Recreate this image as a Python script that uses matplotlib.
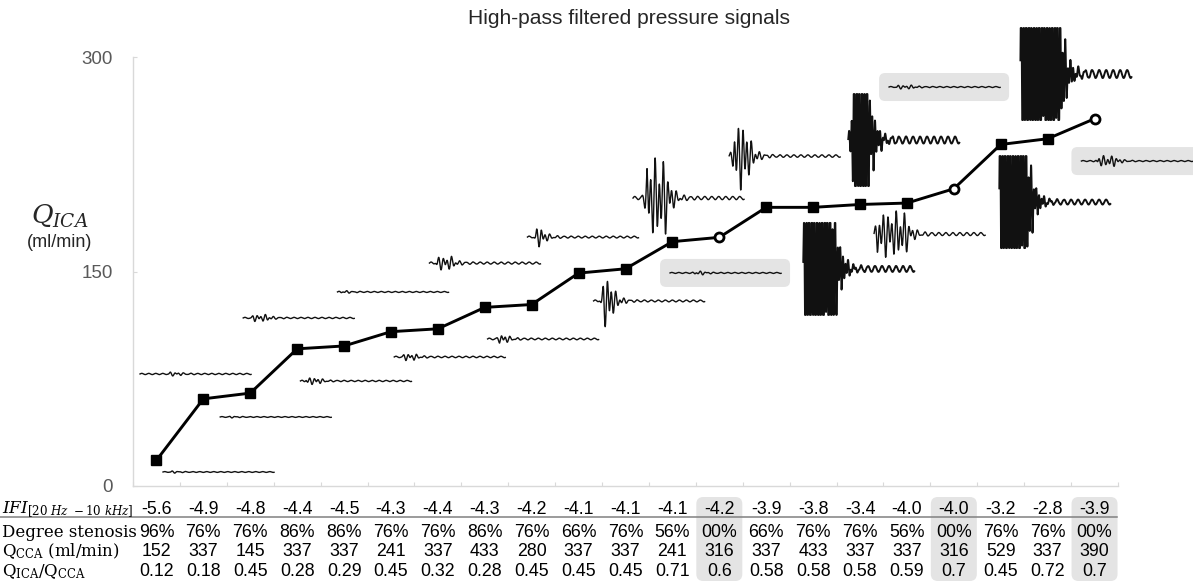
import numpy as np
import matplotlib
matplotlib.use("Agg")
import matplotlib.pyplot as plt
from matplotlib.patches import FancyBboxPatch
from matplotlib.lines import Line2D
from matplotlib.transforms import blended_transform_factory

# ---- data -------------------------------------------------------------
ifi = ["-5.6", "-4.9", "-4.8", "-4.4", "-4.5", "-4.3", "-4.4", "-4.3", "-4.2", "-4.1", "-4.1",
       "-4.1", "-4.2", "-3.9", "-3.8", "-3.4", "-4.0", "-4.0", "-3.2", "-2.8", "-3.9"]
stenosis = ["96%", "76%", "76%", "86%", "86%", "76%", "76%", "86%", "76%", "66%", "76%",
            "56%", "00%", "66%", "76%", "76%", "56%", "00%", "76%", "76%", "00%"]
q_cca = [152, 337, 145, 337, 337, 241, 337, 433, 280, 337, 337,
         241, 316, 337, 433, 337, 337, 316, 529, 337, 390]
q_ratio = [0.12, 0.18, 0.45, 0.28, 0.29, 0.45, 0.32, 0.28, 0.45, 0.45, 0.45,
           0.71, 0.6, 0.58, 0.58, 0.58, 0.59, 0.7, 0.45, 0.72, 0.7]
q_ica = [18, 61, 65, 96, 98, 108, 110, 125, 127, 149, 152,
         171, 174, 195, 195, 197, 198, 208, 239, 243, 257]
y_ticks = [0, 150, 300]

# ---- pressure-trace insets -------------------------------------------
# anchor (category x, Q value), burst amplitude / onset / duration (px),
# background ripple (px), framed in a grey box
insets = [
    (0.14, 9.8, 0.8, 8, 4, 0.4, False),
    (-0.35, 78.4, 1.5, 30, 8, 0.6, False),
    (1.36, 48.3, 0.6, 10, 4, 0.4, False),
    (1.85, 117.6, 3.0, 10, 14, 0.6, False),
    (3.07, 73.5, 3.0, 6, 12, 0.6, False),
    (3.86, 135.8, 1.0, 4, 6, 0.5, False),
    (5.07, 90.3, 3.0, 10, 10, 0.7, False),
    (5.82, 156.0, 6.0, 8, 14, 1.0, False),
    (7.06, 102.9, 4.0, 12, 6, 0.8, False),
    (7.91, 174.2, 9.0, 9, 5, 0.9, False),
    (9.32, 129.5, 25.0, 10, 6, 0.9, False),
    (10.16, 201.5, 39.0, 14, 18, 1.6, False),
    (10.95, 149.1, 1.5, 25, 8, 0.5, True),
    (12.21, 230.9, 33.0, 5, 12, 1.2, False),
    (13.79, 151.9, 120.0, 2, 26, 3.0, False),
    (14.75, 242.1, 120.0, 5, 12, 3.5, False),
    (15.30, 176.3, 22.0, 3, 28, 1.5, False),
    (15.62, 279.2, 1.5, 8, 16, 0.5, True),
    (17.97, 198.7, 120.0, 1, 24, 2.5, False),
    (18.42, 288.3, 120.0, 1, 36, 4.0, False),
    (19.72, 227.4, 5.0, 17, 16, 0.5, True),
]

W, H, DPI = 1193, 584, 100
AX_L, AX_R, AX_B, AX_T = 133, 1118, 486, 57.3  # pixel frame of the plot area
CLIP = 46.0


def waveform(amp, onset, dur, ripple, length=111.0, clip=CLIP, n=1600):
    t = np.linspace(0, length, n)
    env = np.where(t < onset, np.exp(-(onset - t) / 1.5),
                   np.where(t < onset + dur, 1.0, np.exp(-(t - onset - dur) / 6.0)))
    period = 2.6 if amp > clip else 4.2
    carrier = (np.sin(2 * np.pi * t / period)
               + 0.45 * np.sin(2 * np.pi * t / (period * 1.7) + 0.8)) / 1.45
    s = amp * env * carrier + ripple * np.sin(2 * np.pi * t / 7.0)
    return t, np.clip(s, -clip, clip)


plt.rcParams["mathtext.fontset"] = "dejavuserif"
fig = plt.figure(figsize=(W / DPI, H / DPI), dpi=DPI)
ax = fig.add_axes([AX_L / W, 1 - AX_B / H, (AX_R - AX_L) / W, (AX_B - AX_T) / H])

n = len(q_ica)
x = np.arange(n)
ax.set_xlim(-0.5, n - 0.5)
ax.set_ylim(0, 300)

grey = "#d9d9d9"
for side in ("top", "right"):
    ax.spines[side].set_visible(False)
for side in ("left", "bottom"):
    ax.spines[side].set_color(grey)
    ax.spines[side].set_linewidth(1.0)

ax.set_yticks(y_ticks)
ax.set_yticklabels([str(v) for v in y_ticks], fontfamily="Liberation Sans",
                   fontsize=13.5, color="#595959")
ax.tick_params(axis="y", direction="in", length=3, color=grey, pad=14.5)
ax.set_xticks(np.arange(n + 1) - 0.5)
ax.set_xticklabels([])
ax.tick_params(axis="x", direction="in", length=3, color=grey)

# main curve
healthy = np.array([s == "00%" for s in stenosis])
ax.plot(x, q_ica, color="black", lw=2.1, zorder=5, clip_on=False)
ax.plot(x[~healthy], np.array(q_ica)[~healthy], ls="none", marker="s", ms=7.5,
        color="black", zorder=6, clip_on=False)
ax.plot(x[healthy], np.array(q_ica)[healthy], ls="none", marker="o", ms=6.5,
        mfc="white", mec="black", mew=2.0, zorder=6, clip_on=False)

# inset traces, drawn in pixel units around their anchors
px = fig.dpi_scale_trans
for (cx, cy, amp, onset, dur, rip, boxed) in insets:
    x0, y0 = ax.transData.transform((cx, cy))
    t, s = waveform(amp, onset, dur, rip)
    if boxed:
        box = FancyBboxPatch(((x0 - 10) / DPI, (y0 - 14) / DPI), 130 / DPI, 28 / DPI,
                             boxstyle="round,pad=0,rounding_size=0.06",
                             transform=px, facecolor="#e4e4e4", edgecolor="none",
                             zorder=2)
        fig.add_artist(box)
    lw = 1.4 if amp > CLIP else 1.0
    line = Line2D((x0 + t) / DPI, (y0 + s) / DPI, transform=px,
                  color="#111111", lw=lw, zorder=3)
    fig.add_artist(line)

# title and axis label
fig.text(629 / W, 1 - 18 / H, "High-pass filtered pressure signals",
         ha="center", va="center", fontfamily="Liberation Sans", fontsize=15.1,
         color="#262626")
fig.text(60 / W, 1 - 216 / H, r"$Q_{ICA}$", ha="center", va="center", fontsize=19,
         color="#262626")
fig.text(60 / W, 1 - 243 / H, "(ml/min)", ha="center", va="center",
         fontfamily="Liberation Sans", fontsize=13, color="#262626")

# table underneath the axis
trans = blended_transform_factory(ax.transData, fig.transFigure)
row_baselines = [514, 537, 556, 576]
row_labels = [r"$IFI_{[20\ Hz\ -10\ kHz]}$", "Degree stenosis",
              r"$\mathrm{Q_{CCA}}$ (ml/min)", r"$\mathrm{Q_{ICA}/Q_{CCA}}$"]
label_sizes = [12.2, 12, 12, 12]
rows = [ifi, stenosis, [str(v) for v in q_cca], [f"{v:g}" for v in q_ratio]]

for i in np.where(healthy)[0]:
    cxp = ax.transData.transform((i, 0))[0]
    box = FancyBboxPatch(((cxp - 23) / DPI, 3 / DPI), 46 / DPI, 84 / DPI,
                         boxstyle="round,pad=0,rounding_size=0.07",
                         transform=px, facecolor="#e4e4e4", edgecolor="none", zorder=0)
    fig.add_artist(box)

fig.add_artist(Line2D([0, 1117 / W], [1 - 516.5 / H] * 2, transform=fig.transFigure,
                      color="#808080", lw=1.1))

for label, size, vals, yb in zip(row_labels, label_sizes, rows, row_baselines):
    yf = 1 - yb / H
    fig.text(2 / W, yf, label, ha="left", va="baseline", fontfamily="DejaVu Serif",
             fontsize=size, color="black")
    for i, v in enumerate(vals):
        fig.text(i, yf, v, transform=trans, ha="center", va="baseline",
                 fontfamily="Liberation Sans", fontsize=12.8, color="black")

fig.savefig("out.png", dpi=DPI)
